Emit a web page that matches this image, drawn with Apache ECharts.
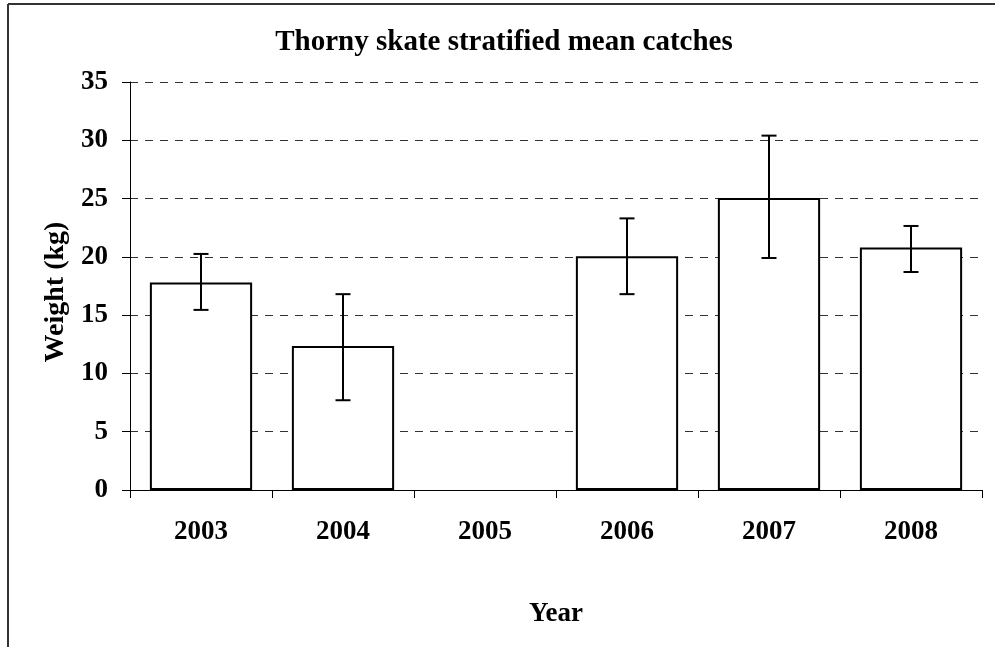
<!DOCTYPE html>
<html>
<head>
<meta charset="utf-8">
<script src="https://cdn.jsdelivr.net/npm/echarts@6/dist/echarts.min.js"></script>
<style>
html,body{margin:0;padding:0;background:#fff;}
#chart{width:995px;height:647px;}
</style>
</head>
<body>
<div id="chart"></div>
<script>
var years = ['2003', '2004', '2005', '2006', '2007', '2008'];
var meanWeight = [17.8, 12.35, null, 20.05, 25.05, 20.8];
var errLow = [15.45, 7.7, null, 16.8, 19.9, 18.7];
var errHigh = [20.25, 16.8, null, 23.3, 30.4, 22.65];
var yTicks = [0, 5, 10, 15, 20, 25, 30, 35];

var font = '"Liberation Serif", "Times New Roman", serif';
var chart = echarts.init(document.getElementById('chart'));

var errData = [];
for (var i = 0; i < years.length; i++) {
  if (errLow[i] != null) errData.push([i, errLow[i], errHigh[i]]);
}

chart.setOption({
  animation: false,
  backgroundColor: '#fff',
  title: {
    text: 'Thorny skate stratified mean catches',
    left: 499, top: 23, textAlign: 'center',
    textStyle: {fontFamily: font, fontWeight: 'bold', fontSize: 29, color: '#000'}
  },
  grid: {left: 130, right: 13, top: 82, bottom: 157},
  xAxis: {
    type: 'category',
    data: years,
    name: 'Year',
    nameLocation: 'middle',
    nameGap: 111,
    nameTextStyle: {fontFamily: font, fontWeight: 'bold', fontSize: 27, color: '#000'},
    axisLine: {lineStyle: {color: '#000', width: 1}},
    axisTick: {show: true, length: 8, lineStyle: {color: '#000'}},
    axisLabel: {margin: 29, fontFamily: font, fontWeight: 'bold', fontSize: 27, color: '#000'}
  },
  yAxis: {
    type: 'value',
    min: yTicks[0], max: yTicks[yTicks.length - 1], interval: 5,
    name: 'Weight (kg)',
    nameLocation: 'middle',
    nameGap: 60,
    nameTextStyle: {fontFamily: font, fontWeight: 'bold', fontSize: 28, color: '#000', padding: [0, 12, 0, 0]},
    axisLine: {show: true, lineStyle: {color: '#000', width: 1}},
    axisTick: {show: true, length: 8, lineStyle: {color: '#000'}},
    axisLabel: {margin: 22, fontFamily: font, fontWeight: 'bold', fontSize: 27, color: '#000'},
    splitLine: {show: true, lineStyle: {color: '#333', type: [8, 7], width: 1}}
  },
  graphic: [
    {type: 'line', shape: {x1: 8, y1: 4, x2: 995, y2: 4}, style: {stroke: '#333', lineWidth: 2}, silent: true},
    {type: 'line', shape: {x1: 8, y1: 4, x2: 8, y2: 647}, style: {stroke: '#333', lineWidth: 2}, silent: true}
  ],
  series: [
    {
      type: 'bar',
      data: meanWeight.map(function (v) { return v == null ? '-' : v; }),
      barCategoryGap: '28%',
      itemStyle: {color: '#fff', borderColor: '#000', borderWidth: 2},
      z: 2
    },
    {
      type: 'custom',
      data: errData,
      z: 5,
      renderItem: function (params, api) {
        var x = api.value(0);
        var lo = api.coord([x, api.value(1)]);
        var hi = api.coord([x, api.value(2)]);
        var hw = 7.5;
        var style = {stroke: '#000', lineWidth: 2};
        return {
          type: 'group',
          children: [
            {type: 'line', shape: {x1: lo[0], y1: lo[1], x2: hi[0], y2: hi[1]}, style: style},
            {type: 'line', shape: {x1: hi[0] - hw, y1: hi[1], x2: hi[0] + hw, y2: hi[1]}, style: style},
            {type: 'line', shape: {x1: lo[0] - hw, y1: lo[1], x2: lo[0] + hw, y2: lo[1]}, style: style}
          ]
        };
      }
    }
  ]
});
</script>
</body>
</html>
